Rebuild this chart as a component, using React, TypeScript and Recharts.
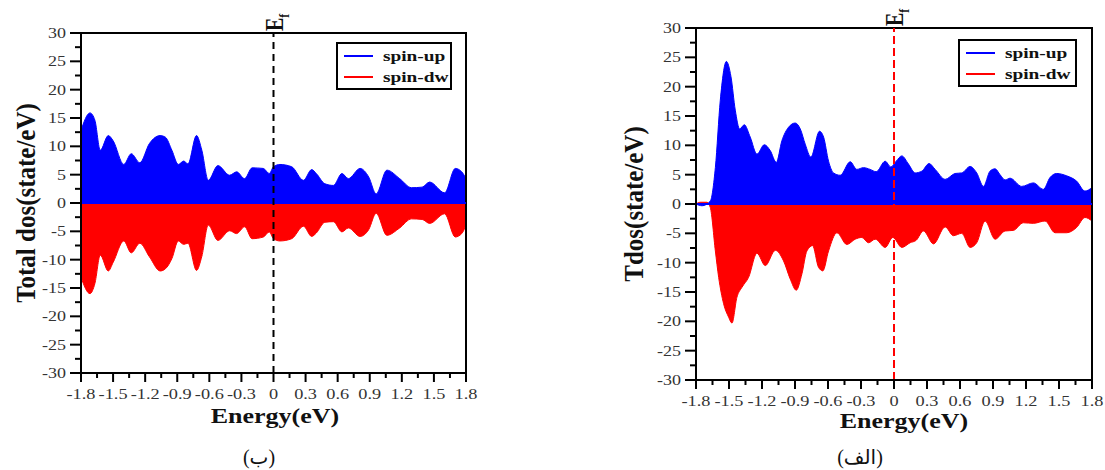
import { AreaChart, Area, XAxis, YAxis, ReferenceLine, ReferenceArea, Legend, Label } from "recharts"

const FONT = '"Liberation Serif", "DejaVu Serif", serif'

const xMajor = [-1.8, -1.5, -1.2, -0.9, -0.6, -0.3, 0, 0.3, 0.6, 0.9, 1.2, 1.5, 1.8]
const xMinor = [-1.65, -1.35, -1.05, -0.75, -0.45, -0.15, 0.15, 0.45, 0.75, 1.05, 1.35, 1.65]
const yMajor = [-30, -25, -20, -15, -10, -5, 0, 5, 10, 15, 20, 25, 30]
const yMinor = [-27.5, -22.5, -17.5, -12.5, -7.5, -2.5, 2.5, 7.5, 12.5, 17.5, 22.5, 27.5]

// left panel (ب) - Total dos
const leftE = [
  -1.8, -1.716, -1.67, -1.62, -1.545, -1.5, -1.4, -1.33, -1.25, -1.16, -1.06, -1.01, -0.95, -0.89, -0.84, -0.8,
  -0.72, -0.67, -0.61, -0.52, -0.41, -0.345, -0.27, -0.2, -0.095, -0.04, 0, 0.06, 0.17, 0.28, 0.357, 0.4, 0.48,
  0.56, 0.64, 0.7, 0.81, 0.89, 0.96, 1.06, 1.18, 1.29, 1.39, 1.46, 1.6, 1.7, 1.76, 1.8,
]
const leftUp = [
  12.8, 15.9, 14.6, 9.3, 11.9, 11.0, 6.8, 8.7, 7.1, 10.5, 11.9, 11.6, 9.3, 6.8, 7.4, 6.9, 11.9, 9.3, 4.0, 6.6, 4.9,
  5.5, 4.3, 6.2, 6.1, 5.2, 6.4, 6.8, 6.4, 4.0, 5.9, 5.2, 3.4, 3.1, 5.2, 4.3, 6.1, 4.6, 1.6, 5.8, 4.3, 2.7, 2.8, 3.7,
  1.8, 6.1, 5.5, 4.3,
]
const leftDw = [
  -13.1, -16, -14.2, -9.2, -12, -10.5, -6.7, -8.8, -7.1, -9.5, -12, -11.6, -9.8, -6.7, -7.3, -7.1, -11.9, -9.4, -3.9,
  -6.6, -4.9, -5.4, -4.2, -6.3, -6.0, -5.1, -6.3, -6.7, -6.3, -4.1, -5.9, -5.3, -3.4, -3.3, -5.1, -4.4, -5.9, -4.7,
  -1.8, -5.7, -4.4, -2.8, -2.9, -3.6, -1.9, -6.0, -5.4, -3.9,
]

// right panel (الف) - Tdos
const rightUpE = [
  -1.8, -1.745, -1.67, -1.624, -1.579, -1.524, -1.482, -1.443, -1.403, -1.361, -1.307, -1.246, -1.179, -1.125,
  -1.07, -1.019, -0.958, -0.898, -0.852, -0.807, -0.756, -0.677, -0.64, -0.595, -0.55, -0.489, -0.398, -0.338,
  -0.277, -0.217, -0.162, -0.08, -0.029, 0.02, 0.071, 0.132, 0.192, 0.253, 0.319, 0.374, 0.465, 0.555, 0.616,
  0.692, 0.752, 0.813, 0.873, 0.919, 0.964, 1.01, 1.055, 1.161, 1.267, 1.358, 1.418, 1.479, 1.57, 1.66, 1.736, 1.8,
]
const rightUp = [
  0, -0.3, 0.5, 6.2, 17.7, 24.3, 21.7, 16, 12.8, 13.5, 11.4, 8.5, 10.1, 9.1, 7.1, 10.8, 13.1, 13.8, 12.8, 10.2, 8.0,
  12.4, 11.4, 7.3, 5.3, 4.9, 7.2, 5.9, 6.2, 5.9, 5.5, 7.3, 6.3, 7.3, 8.2, 6.8, 5.3, 5.6, 6.9, 5.9, 4.2, 5.2, 5.3,
  6.4, 5.3, 3.0, 5.6, 6.0, 5.0, 4.1, 4.4, 3.0, 3.6, 2.5, 4.5, 5.2, 4.8, 3.9, 2.2, 2.8,
]
const rightDwE = [
  -1.8, -1.761, -1.7, -1.67, -1.624, -1.594, -1.549, -1.503, -1.473, -1.428, -1.382, -1.322, -1.246, -1.17, -1.079,
  -1.004, -0.943, -0.889, -0.837, -0.792, -0.74, -0.686, -0.647, -0.595, -0.519, -0.429, -0.353, -0.292, -0.232,
  -0.171, -0.08, -0.011, 0.071, 0.147, 0.201, 0.268, 0.359, 0.465, 0.54, 0.616, 0.692, 0.752, 0.828, 0.919, 1.01,
  1.085, 1.176, 1.267, 1.373, 1.464, 1.57, 1.66, 1.736, 1.8,
]
const rightDw = [
  0, 0.3, 0.3, -0.6, -8, -12.5, -17, -19.3, -20.3, -15.9, -14.2, -12.5, -8.4, -10.5, -7.9, -9.7, -12.8, -14.7, -11.9,
  -8.0, -7.1, -10.8, -11.4, -8.0, -4.9, -6.9, -6.0, -5.7, -6.6, -6.0, -7.4, -5.7, -7.4, -6.6, -6.2, -4.6, -6.8, -3.9,
  -5.4, -5.0, -7.4, -6.6, -2.9, -6.0, -4.6, -4.5, -3.2, -3.3, -2.9, -4.9, -4.9, -4.0, -2.3, -2.9,
]

const rows = (e: number[], v: number[]) => e.map((x, i) => ({ e: x, v: v[i] }))

const isIn = (list: number[], v: number) => list.some((m) => Math.abs(m - v) < 1e-9)

function XTick(props: any) {
  const { x, y, payload } = props
  const major = isIn(xMajor, payload.value)
  return (
    <g>
      <line x1={x} x2={x} y1={y} y2={y + (major ? 9 : 5)} stroke="#000" strokeWidth={2} />
      {major && (
        <text
          transform={`translate(${x},${y + 26}) scale(1.22,1)`}
          textAnchor="middle"
          fontFamily={FONT}
          fontSize={15}
          fill="#333"
        >
          {payload.value}
        </text>
      )}
    </g>
  )
}

function YTick(props: any) {
  const { x, y, payload } = props
  const major = isIn(yMajor, payload.value)
  return (
    <g>
      <line x1={x - (major ? 11 : 6)} x2={x} y1={y} y2={y} stroke="#000" strokeWidth={2} />
      {major && (
        <text
          transform={`translate(${x - 15},${y + 5}) scale(1.2,1)`}
          textAnchor="end"
          fontFamily={FONT}
          fontSize={15}
          fill="#333"
        >
          {payload.value}
        </text>
      )}
    </g>
  )
}

function LegendBox({ w }: { w: number }) {
  return (
    <svg width={w} height={49} style={{ display: "block" }}>
      <rect x={1} y={1} width={w - 2} height={46} fill="#fff" stroke="#000" strokeWidth={2} />
      <line x1={8} x2={37} y1={14} y2={14} stroke="#0000ff" strokeWidth={2} />
      <line x1={8} x2={37} y1={35} y2={35} stroke="#ff0000" strokeWidth={2} />
      <text transform="translate(47,19) scale(1.38,1)" fontFamily={FONT} fontWeight="bold" fontSize={14} fill="#111">
        spin-up
      </text>
      <text transform="translate(47,40) scale(1.38,1)" fontFamily={FONT} fontWeight="bold" fontSize={14} fill="#111">
        spin-dw
      </text>
    </svg>
  )
}

interface PanelProps {
  width: number
  height: number
  margin: { top: number; right: number; bottom: number; left: number }
  up: { e: number; v: number }[]
  dw: { e: number; v: number }[]
  efColor: string
  dash: string
  yTitle: string
  yTitleX: number
  energyX: number
  energyY: number
  caption: string
  captionX: number
  legendLeft: number
  legendTop: number
  legendW: number
}

function Panel(p: PanelProps) {
  const midY = p.margin.top + (p.height - p.margin.top - p.margin.bottom - 30) / 2
  return (
    <AreaChart width={p.width} height={p.height} margin={p.margin}>
      <XAxis
        type="number"
        dataKey="e"
        domain={[-1.8, 1.8]}
        ticks={[...xMajor, ...xMinor]}
        interval={0}
        height={30}
        tickSize={0}
        tickMargin={0}
        tickLine={false}
        tick={<XTick />}
        axisLine={{ stroke: "#000", strokeWidth: 2 }}
        allowDataOverflow
      >
        <Label
          content={() => (
            <g>
              <text
                transform={`translate(${p.energyX},${p.energyY}) scale(1.3,1)`}
                textAnchor="middle"
                fontFamily={FONT}
                fontWeight="bold"
                fontSize={20}
                fill="#111"
              >
                Energy(eV)
              </text>
              <text
                x={p.captionX}
                y={p.height - 6}
                textAnchor="middle"
                fontFamily={'"Liberation Serif", "DejaVu Sans", serif'}
                fontSize={20}
                fill="#111"
              >
                {p.caption}
              </text>
            </g>
          )}
        />
      </XAxis>
      <YAxis
        type="number"
        domain={[-30, 30]}
        ticks={[...yMajor, ...yMinor]}
        interval={0}
        width={40}
        tickSize={0}
        tickMargin={0}
        tickLine={false}
        tick={<YTick />}
        axisLine={{ stroke: "#000", strokeWidth: 2 }}
        allowDataOverflow
      >
        <Label
          content={() => (
            <text
              transform={`translate(${p.yTitleX},${midY}) scale(1.1,1) rotate(-90)`}
              textAnchor="middle"
              fontFamily={FONT}
              fontWeight="bold"
              fontSize={25}
              fill="#111"
            >
              {p.yTitle}
            </text>
          )}
        />
      </YAxis>
      <Legend
        layout="horizontal"
        verticalAlign="middle"
        align="center"
        wrapperStyle={{ left: p.legendLeft, top: p.legendTop, width: p.legendW, height: 49 }}
        content={() => <LegendBox w={p.legendW} />}
      />
      <Area
        data={p.up}
        dataKey="v"
        type="monotone"
        stroke="#0000ff"
        strokeWidth={1}
        fill="#0000ff"
        fillOpacity={1}
        dot={false}
        activeDot={false}
        isAnimationActive={false}
      />
      <Area
        data={p.dw}
        dataKey="v"
        type="monotone"
        stroke="#ff0000"
        strokeWidth={1}
        fill="#ff0000"
        fillOpacity={1}
        dot={false}
        activeDot={false}
        isAnimationActive={false}
      />
      <ReferenceLine y={0} stroke="#0000ff" strokeWidth={2} />
      <ReferenceLine
        x={0}
        stroke={p.efColor}
        strokeWidth={2}
        strokeDasharray={p.dash}
        label={(lp: any) => {
          const vb = lp.viewBox || { x: 0, y: 0 }
          return (
            <text
              transform={`translate(${vb.x + 9},${vb.y - 2}) scale(1.25,1) rotate(-90)`}
              fontFamily={FONT}
              fontWeight="bold"
              fontSize={20}
              fill="#111"
            >
              E
              <tspan fontSize={12} dy={5}>
                f
              </tspan>
            </text>
          )
        }}
      />
      <ReferenceArea x1={-1.8} x2={1.8} y1={-30} y2={30} fill="none" stroke="#000" strokeWidth={2} />
    </AreaChart>
  )
}

export default function App() {
  return (
    <div style={{ position: "absolute", left: 0, top: 0, width: 1105, height: 470, background: "#fff" }}>
      <div style={{ position: "absolute", left: 0, top: 0 }}>
        <Panel
          width={560}
          height={470}
          margin={{ top: 33, right: 94, bottom: 67, left: 41 }}
          up={rows(leftE, leftUp)}
          dw={rows(leftE, leftDw)}
          efColor="#000"
          dash="7 5"
          yTitle="Total dos(state/eV)"
          yTitleX={35}
          energyX={275}
          energyY={423}
          caption="(ب)"
          captionX={259}
          legendLeft={336}
          legendTop={42}
          legendW={116}
        />
      </div>
      <div style={{ position: "absolute", left: 560, top: 0 }}>
        <Panel
          width={545}
          height={470}
          margin={{ top: 28, right: 13, bottom: 60, left: 96 }}
          up={rows(rightUpE, rightUp)}
          dw={rows(rightDwE, rightDw)}
          efColor="#ff0000"
          dash="8 4"
          yTitle="Tdos(state/eV)"
          yTitleX={83}
          energyX={344}
          energyY={428}
          caption="(الف)"
          captionX={300}
          legendLeft={398}
          legendTop={39}
          legendW={119}
        />
      </div>
    </div>
  )
}
